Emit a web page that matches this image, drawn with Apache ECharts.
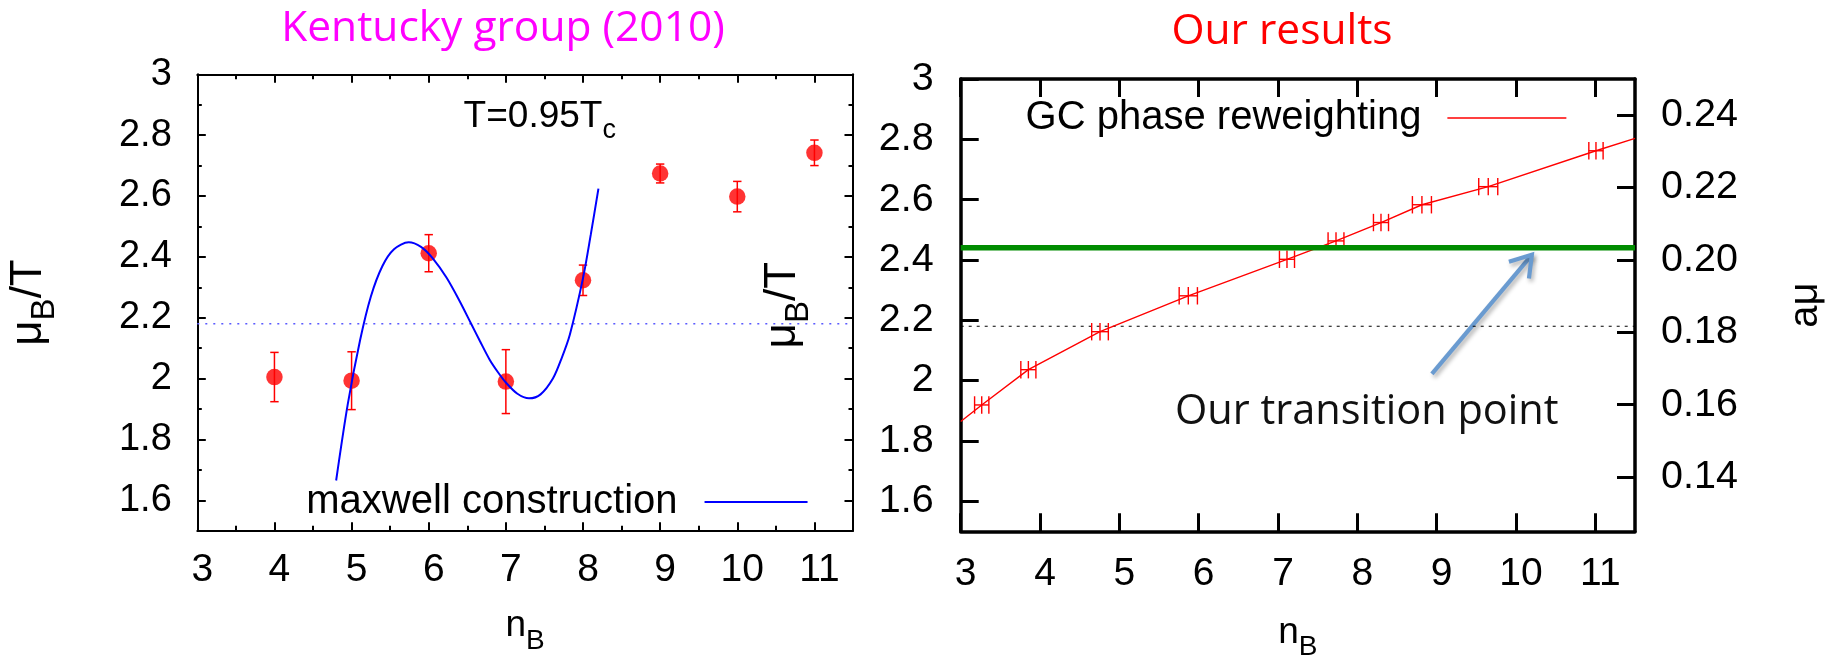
<!DOCTYPE html>
<html>
<head>
<meta charset="utf-8">
<script src="https://cdn.jsdelivr.net/npm/echarts@6/dist/echarts.min.js"></script>
<style>
  html, body { margin: 0; padding: 0; background: #fff; }
  #chart { width: 1839px; height: 659px; }
</style>
</head>
<body>
<div id="chart"></div>
<script>
// ---- Kentucky group (2010), T = 0.95 Tc ----
const kentuckyN   = [4, 5, 6, 7, 8, 9, 10, 11];
const kentuckyMu  = [2.005, 1.993, 2.412, 1.99, 2.323, 2.674, 2.598, 2.742];
const kentuckyErr = [0.081, 0.095, 0.061, 0.105, 0.05, 0.031, 0.05, 0.042];

// Maxwell construction curve (sampled along the drawn curve)
const maxwellN  = [4.80, 4.95, 5.11, 5.25, 5.40, 5.55, 5.74, 5.90, 6.05, 6.23, 6.40, 6.55, 6.66, 6.79, 6.90, 7.00, 7.15, 7.30, 7.45, 7.61, 7.72, 7.83, 8.00, 8.10, 8.20];
const maxwellMu = [1.665, 1.915, 2.126, 2.27, 2.37, 2.425, 2.448, 2.433, 2.396, 2.332, 2.255, 2.18, 2.125, 2.062, 2.02, 1.987, 1.95, 1.935, 1.948, 2.0, 2.065, 2.145, 2.33, 2.472, 2.624];

// ---- Our results: GC phase reweighting ----
const ourN    = [3.265, 3.853, 4.756, 5.869, 7.113, 7.731, 8.298, 8.814, 9.65, 11.008];
const ourMu   = [1.919, 2.036, 2.162, 2.281, 2.402, 2.463, 2.524, 2.583, 2.643, 2.762];
const ourNErr = [0.09, 0.095, 0.105, 0.115, 0.095, 0.1, 0.095, 0.12, 0.12, 0.09];
// the connecting line runs on to both frame edges
const lineEndN  = [3, 11.5];
const lineEndMu = [1.864, 2.803];

// reference levels
const refLevel = 2.18;          // dotted line in both panels
const transitionLevel = 2.44;   // our transition point
const arrowFrom = [8.94, 2.022];
const arrowTo   = [10.2, 2.417];

// ---- ticks ----
const xTicks      = [3, 4, 5, 6, 7, 8, 9, 10, 11];
const xTickLabels = ['3', '4', '5', '6', '7', '8', '9', '10', '11'];
const xMinorTicks = [3.5, 4.5, 5.5, 6.5, 7.5, 8.5, 9.5, 10.5];
const yTicks      = [1.6, 1.8, 2.0, 2.2, 2.4, 2.6, 2.8, 3.0];
const yTickLabels = ['1.6', '1.8', '2', '2.2', '2.4', '2.6', '2.8', '3'];
const yMinorTicks = [1.7, 1.9, 2.1, 2.3, 2.5, 2.7, 2.9];
const amuTicks      = [0.14, 0.16, 0.18, 0.20, 0.22, 0.24];
const amuTickLabels = ['0.14', '0.16', '0.18', '0.20', '0.22', '0.24'];

const FONT = "'Liberation Sans', Arial, Helvetica, sans-serif";
const SLIDE_FONT = "'Open Sans', Lato, sans-serif";
const BLACK = '#000';

function labelFor(values, labels) {
  return v => {
    const i = values.findIndex(t => Math.abs(t - v) < 1e-9);
    return i < 0 ? '' : labels[i];
  };
}

// axis helpers -------------------------------------------------------------
function frameAxis(extra) {
  return Object.assign({
    type: 'value',
    splitLine: { show: false },
    axisLine: { show: true, onZero: false, lineStyle: { color: BLACK, width: 2 } },
    axisTick: { show: true, inside: true, length: 8.5, lineStyle: { color: BLACK, width: 2 } },
    axisLabel: { show: false },
    silent: true
  }, extra);
}
function minorAxis(extra, ticks, len) {
  return Object.assign({
    type: 'value',
    splitLine: { show: false },
    axisLine: { show: false, onZero: false },
    axisTick: { show: true, inside: true, length: len, customValues: ticks, lineStyle: { color: BLACK, width: 2 } },
    axisLabel: { show: false },
    silent: true
  }, extra);
}

const subNameRich = {
  n: { fontSize: 37, fontFamily: FONT, color: BLACK },
  b: { fontSize: 28, fontFamily: FONT, color: BLACK, padding: [30, 0, 0, 0] }
};
const muNameRich = {
  m: { fontSize: 44, fontFamily: FONT, color: BLACK },
  b: { fontSize: 33, fontFamily: FONT, color: BLACK, padding: [32, 0, 0, 0] },
  t: { fontSize: 44, fontFamily: FONT, color: BLACK }
};

const xAxes = [
  // left panel: bottom (labels + major), bottom minor, top major, top minor
  frameAxis({
    gridIndex: 0, position: 'bottom', min: 3, max: 11.5,
    axisTick: { show: true, inside: true, length: 8.5, customValues: xTicks, lineStyle: { color: BLACK, width: 2 } },
    axisLabel: { show: true, customValues: xTicks, formatter: labelFor(xTicks, xTickLabels),
      fontSize: 39, fontFamily: FONT, color: BLACK, margin: 20.5, padding: [0, 0, 0, 10] },
    name: '{n|n}{b|B}', nameLocation: 'middle', nameGap: 66.5, nameMoveOverlap: false,
    nameTextStyle: { fontSize: 37, fontFamily: FONT, rich: subNameRich }
  }),
  minorAxis({ gridIndex: 0, position: 'bottom', min: 3, max: 11.5 }, xMinorTicks, 5),
  frameAxis({
    gridIndex: 0, position: 'top', min: 3, max: 11.5,
    axisTick: { show: true, inside: true, length: 8.5, customValues: xTicks, lineStyle: { color: BLACK, width: 2 } }
  }),
  minorAxis({ gridIndex: 0, position: 'top', min: 3, max: 11.5 }, xMinorTicks, 5),
  // right panel: bottom, top
  frameAxis({
    gridIndex: 1, position: 'bottom', min: 3, max: 11.5,
    axisLine: { show: true, onZero: false, lineStyle: { color: BLACK, width: 3.5 } },
    axisTick: { show: true, inside: true, length: 18, customValues: xTicks, lineStyle: { color: BLACK, width: 3 } },
    axisLabel: { show: true, customValues: xTicks, formatter: labelFor(xTicks, xTickLabels),
      fontSize: 39, fontFamily: FONT, color: BLACK, margin: 23, padding: [0, 0, 0, 10] },
    name: '{n|n}{b|B}', nameLocation: 'middle', nameGap: 72, nameMoveOverlap: false,
    nameTextStyle: { fontSize: 37, fontFamily: FONT, rich: subNameRich }
  }),
  frameAxis({
    gridIndex: 1, position: 'top', min: 3, max: 11.5,
    axisLine: { show: true, onZero: false, lineStyle: { color: BLACK, width: 3.5 } },
    axisTick: { show: true, inside: true, length: 18, customValues: xTicks, lineStyle: { color: BLACK, width: 3 } }
  })
];

const yAxes = [
  // left panel: left (labels + major), left minor, right major, right minor
  frameAxis({
    gridIndex: 0, position: 'left', min: 1.5, max: 3,
    axisTick: { show: true, inside: true, length: 8.5, customValues: yTicks, lineStyle: { color: BLACK, width: 2 } },
    axisLabel: { show: true, customValues: yTicks, formatter: labelFor(yTicks, yTickLabels),
      fontSize: 38, fontFamily: FONT, color: BLACK, margin: 25.5 },
    name: '{m|μ}{b|B}{t|/T}', nameLocation: 'middle', nameRotate: 90, nameGap: 136, nameMoveOverlap: false,
    nameTextStyle: { fontSize: 44, fontFamily: FONT, rich: muNameRich }
  }),
  minorAxis({ gridIndex: 0, position: 'left', min: 1.5, max: 3 }, yMinorTicks, 4.5),
  frameAxis({
    gridIndex: 0, position: 'right', min: 1.5, max: 3,
    axisTick: { show: true, inside: true, length: 8.5, customValues: yTicks, lineStyle: { color: BLACK, width: 2 } }
  }),
  minorAxis({ gridIndex: 0, position: 'right', min: 1.5, max: 3 }, yMinorTicks, 4.5),
  // right panel: left mu_B/T, right a*mu
  frameAxis({
    gridIndex: 1, position: 'left', min: 1.5, max: 3,
    axisLine: { show: true, onZero: false, lineStyle: { color: BLACK, width: 3.5 } },
    axisTick: { show: true, inside: true, length: 18, customValues: yTicks, lineStyle: { color: BLACK, width: 3 } },
    axisLabel: { show: true, customValues: yTicks, formatter: labelFor(yTicks, yTickLabels),
      fontSize: 39.5, fontFamily: FONT, color: BLACK, margin: 27 },
    name: '{m|μ}{b|B}{t|/T}', nameLocation: 'middle', nameRotate: 90, nameGap: 145, nameMoveOverlap: false,
    nameTextStyle: { fontSize: 44, fontFamily: FONT, rich: muNameRich }
  }),
  frameAxis({
    gridIndex: 1, position: 'right', min: 0.125, max: 0.25,
    axisLine: { show: true, onZero: false, lineStyle: { color: BLACK, width: 3.5 } },
    axisTick: { show: true, inside: true, length: 18, customValues: amuTicks, lineStyle: { color: BLACK, width: 3 } },
    axisLabel: { show: true, customValues: amuTicks, formatter: labelFor(amuTicks, amuTickLabels),
      fontSize: 39.5, fontFamily: FONT, color: BLACK, margin: 26 },
    name: 'aμ', nameLocation: 'middle', nameRotate: 90, nameGap: 151, nameMoveOverlap: false,
    nameTextStyle: { fontSize: 40, fontFamily: FONT, color: BLACK }
  })
];

// error bar with caps (vertical)
function renderYErr(params, api) {
  const x = api.value(0), y = api.value(1), e = api.value(2);
  const top = api.coord([x, y + e]);
  const bot = api.coord([x, y - e]);
  const cap = 4.2;
  const style = { stroke: '#ff0000', lineWidth: 1.5, fill: null };
  return {
    type: 'group',
    children: [
      { type: 'line', shape: { x1: top[0], y1: top[1], x2: bot[0], y2: bot[1] }, style },
      { type: 'line', shape: { x1: top[0] - cap, y1: top[1], x2: top[0] + cap, y2: top[1] }, style },
      { type: 'line', shape: { x1: bot[0] - cap, y1: bot[1], x2: bot[0] + cap, y2: bot[1] }, style }
    ]
  };
}

// horizontal error bar with end caps and a plus marker at the centre
function renderXErr(params, api) {
  const x = api.value(0), y = api.value(1), e = api.value(2);
  const c = api.coord([x, y]);
  const l = api.coord([x - e, y]);
  const r = api.coord([x + e, y]);
  const h = 8.7;
  const style = { stroke: '#ff0000', lineWidth: 1.4, fill: null };
  return {
    type: 'group',
    children: [
      { type: 'line', shape: { x1: l[0], y1: l[1], x2: r[0], y2: r[1] }, style },
      { type: 'line', shape: { x1: l[0], y1: l[1] - h, x2: l[0], y2: l[1] + h }, style },
      { type: 'line', shape: { x1: c[0], y1: c[1] - h, x2: c[0], y2: c[1] + h }, style },
      { type: 'line', shape: { x1: r[0], y1: r[1] - h, x2: r[0], y2: r[1] + h }, style }
    ]
  };
}

const kentuckyData = kentuckyN.map((n, i) => [n, kentuckyMu[i], kentuckyErr[i]]);
const maxwellData  = maxwellN.map((n, i) => [n, maxwellMu[i]]);
const ourData      = ourN.map((n, i) => [n, ourMu[i], ourNErr[i]]);
const ourLineData  = [[lineEndN[0], lineEndMu[0]]]
  .concat(ourN.map((n, i) => [n, ourMu[i]]))
  .concat([[lineEndN[1], lineEndMu[1]]]);

const option = {
  animation: false,
  backgroundColor: '#fff',
  textStyle: { fontFamily: FONT },
  title: [
    {
      text: 'Kentucky group (2010)', left: 503, top: 4, textAlign: 'center', padding: 0,
      textStyle: { fontFamily: SLIDE_FONT, fontSize: 42.5, fontWeight: 'normal', color: '#ff00ff', lineHeight: 50 }
    },
    {
      text: 'Our results', left: 1282, top: 7, textAlign: 'center', padding: 0,
      textStyle: { fontFamily: SLIDE_FONT, fontSize: 42.5, fontWeight: 'normal', color: '#ff0000', lineHeight: 50 }
    }
  ],
  grid: [
    { left: 197.3, top: 74.3, width: 655.7, height: 456.4, outerBoundsMode: 'none', containLabel: false },
    { left: 960.7, top: 79, width: 674.3, height: 452.3, outerBoundsMode: 'none', containLabel: false }
  ],
  legend: [
    {
      data: ['maxwell construction'], left: 306.3, top: 482, padding: 0, align: 'right',
      icon: 'rect', itemWidth: 103, itemHeight: 2, selectedMode: false,
      textStyle: { fontFamily: FONT, fontSize: 40, color: BLACK, padding: [0, 22, 0, 0] }
    },
    {
      data: ['GC phase reweighting'], left: 1025.6, top: 98, padding: 0, align: 'right',
      icon: 'rect', itemWidth: 119, itemHeight: 1.5, selectedMode: false,
      textStyle: { fontFamily: FONT, fontSize: 40, color: BLACK, padding: [0, 21, 0, 0] }
    }
  ],
  xAxis: xAxes,
  yAxis: yAxes,
  series: [
    // ---- left panel ----
    {
      name: 'level-left', type: 'line', xAxisIndex: 0, yAxisIndex: 0, symbol: 'none', silent: true,
      data: [[3, refLevel], [11.5, refLevel]],
      lineStyle: { color: '#5a5aff', width: 1.6, type: [2, 6] }, z: 2
    },
    {
      name: 'kentucky-err', type: 'custom', xAxisIndex: 0, yAxisIndex: 0, silent: true,
      renderItem: renderYErr, data: kentuckyData, encode: { x: 0, y: 1 }, z: 3
    },
    {
      name: 'Kentucky', type: 'scatter', xAxisIndex: 0, yAxisIndex: 0, silent: true,
      symbol: 'circle', symbolSize: 16.5, itemStyle: { color: '#ff0000' },
      data: kentuckyData.map(d => [d[0], d[1]]), z: 4
    },
    {
      name: 'maxwell construction', type: 'line', xAxisIndex: 0, yAxisIndex: 0, symbol: 'none', silent: true,
      smooth: 0.3, data: maxwellData,
      lineStyle: { color: '#0000ff', width: 2 }, itemStyle: { color: '#0000ff' }, z: 5
    },
    // ---- right panel ----
    {
      name: 'level-right', type: 'line', xAxisIndex: 4, yAxisIndex: 4, symbol: 'none', silent: true,
      data: [[3, refLevel], [11.5, refLevel]],
      lineStyle: { color: BLACK, width: 1.1, type: [3, 5] }, z: 2
    },
    {
      name: 'GC phase reweighting', type: 'line', xAxisIndex: 4, yAxisIndex: 4, symbol: 'none', silent: true,
      data: ourLineData, lineStyle: { color: '#ff0000', width: 1.4 }, itemStyle: { color: '#ff0000' }, z: 3
    },
    {
      name: 'gc-err', type: 'custom', xAxisIndex: 4, yAxisIndex: 4, silent: true,
      renderItem: renderXErr, data: ourData, encode: { x: 0, y: 1 }, z: 4
    },
    {
      name: 'transition', type: 'line', xAxisIndex: 4, yAxisIndex: 4, symbol: 'none', silent: true,
      data: [[3, transitionLevel], [11.5, transitionLevel]],
      lineStyle: { color: '#008c00', width: 5.5 }, z: 6
    }
  ]
};

const chart = echarts.init(document.getElementById('chart'), null, { renderer: 'canvas' });
chart.setOption(option);

// annotations: temperature tag, arrow and its caption
const finder = { xAxisIndex: 4, yAxisIndex: 4 };
const tail = chart.convertToPixel(finder, arrowFrom);
const head = chart.convertToPixel(finder, arrowTo);
const dx = tail[0] - head[0], dy = tail[1] - head[1];
const len = Math.hypot(dx, dy);
const ux = dx / len, uy = dy / len;
const barb = 24, ang = 33 * Math.PI / 180;
function rot(x, y, a) { return [x * Math.cos(a) - y * Math.sin(a), x * Math.sin(a) + y * Math.cos(a)]; }
const b1 = rot(ux, uy, ang), b2 = rot(ux, uy, -ang);
const arrowStyle = {
  stroke: '#6a9bd0', lineWidth: 4.2, fill: null, lineCap: 'butt', lineJoin: 'miter',
  shadowBlur: 4, shadowOffsetX: 2, shadowOffsetY: 3, shadowColor: 'rgba(0,0,0,0.3)'
};

chart.setOption({
  graphic: [
    {
      type: 'text', x: 463.6, y: 117.2, silent: true,
      style: {
        text: '{a|T=0.95T}{c|c}', align: 'left', verticalAlign: 'middle',
        rich: {
          a: { fontSize: 37, fontFamily: FONT, fill: BLACK },
          c: { fontSize: 27, fontFamily: FONT, fill: BLACK, padding: [27, 0, 0, 0] }
        }
      }
    },
    {
      type: 'line', silent: true,
      shape: { x1: tail[0], y1: tail[1], x2: head[0], y2: head[1] }, style: arrowStyle
    },
    {
      type: 'polyline', silent: true,
      shape: { points: [
        [head[0] + b1[0] * barb, head[1] + b1[1] * barb],
        [head[0], head[1]],
        [head[0] + b2[0] * barb, head[1] + b2[1] * barb]
      ] },
      style: arrowStyle
    },
    {
      type: 'text', x: 1175, y: 412.5, silent: true,
      style: { text: 'Our transition point', fontSize: 41.5, fontFamily: SLIDE_FONT, fill: '#111',
        align: 'left', verticalAlign: 'middle' }
    }
  ]
});
</script>
</body>
</html>
